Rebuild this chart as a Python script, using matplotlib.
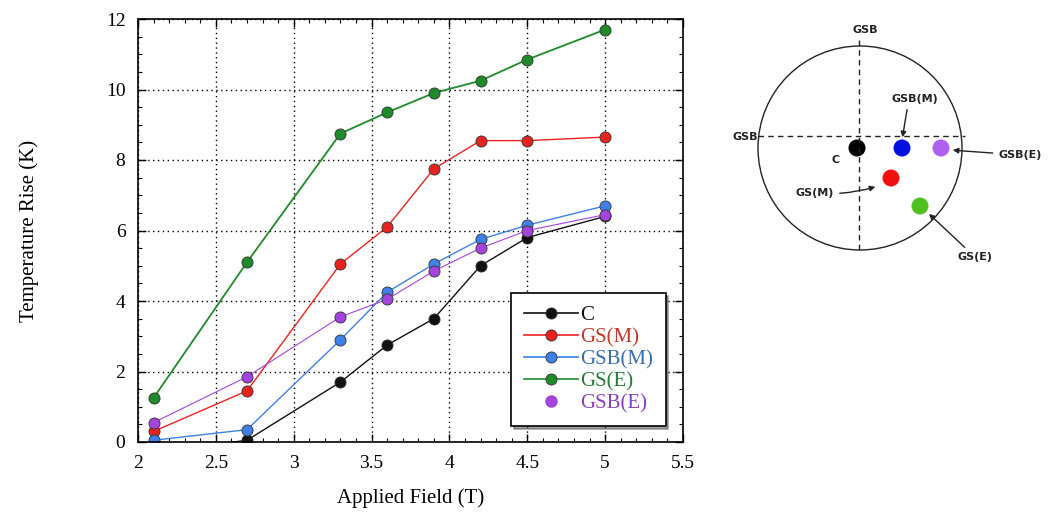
import matplotlib
matplotlib.use("Agg")
import matplotlib.pyplot as plt
from matplotlib.lines import Line2D
from matplotlib.patches import Circle
from matplotlib.ticker import MultipleLocator, FuncFormatter

field = [2.1, 2.7, 3.3, 3.6, 3.9, 4.2, 4.5, 5.0]
rise_C = [-0.3, 0.05, 1.7, 2.75, 3.5, 5.0, 5.8, 6.4]
rise_GSM = [0.3, 1.45, 5.05, 6.1, 7.75, 8.55, 8.55, 8.65]
rise_GSBM = [0.05, 0.35, 2.9, 4.25, 5.05, 5.75, 6.15, 6.7]
rise_GSE = [1.25, 5.1, 8.75, 9.35, 9.9, 10.25, 10.85, 11.7]
rise_GSBE = [0.55, 1.85, 3.55, 4.05, 4.85, 5.5, 6.0, 6.45]
series_names = ["C", "GS(M)", "GSB(M)", "GS(E)", "GSB(E)"]
series_colors = ["#111111", "#e8231f", "#3f80e6", "#1e8a2a", "#a444dd"]
text_colors = ["#111111", "#c0392b", "#3a6db0", "#2a7a3a", "#8a3fc0"]

# schematic (right panel) labels / positions in pixel space
sch_names = ["C", "GSB(M)", "GSB(E)", "GS(M)", "GS(E)"]
sch_dot_x = [857, 902, 941, 891, 920]
sch_dot_y = [148, 148, 148, 178, 206]
sch_dot_colors = ["#000000", "#0010e0", "#b060f0", "#f01010", "#50c020"]

plt.rcParams['font.family'] = ['Liberation Serif', 'DejaVu Serif']
fig = plt.figure(figsize=(10.55, 5.23), dpi=100)
ax = fig.add_axes([138/1055, 1-442/523, (683-138)/1055, (442-19)/523])

data = [rise_C, rise_GSM, rise_GSBM, rise_GSE, rise_GSBE]
lws = [1.0, 1.0, 1.0, 1.3, 0.8]
for y, c, lw in zip(data, series_colors, lws):
    ax.plot(field, y, color=c, lw=lw, marker='o', ms=8, mfc=c,
            mec='#333333', mew=0.6, clip_on=True)

ax.set_xlim(2, 5.5)
ax.set_ylim(0, 12)
ax.xaxis.set_major_locator(MultipleLocator(0.5))
ax.xaxis.set_minor_locator(MultipleLocator(0.1))
ax.yaxis.set_major_locator(MultipleLocator(2))
ax.yaxis.set_minor_locator(MultipleLocator(0.5))
fmt = FuncFormatter(lambda v, p: "%g" % v)
ax.xaxis.set_major_formatter(fmt)
ax.yaxis.set_major_formatter(fmt)
ax.tick_params(which='both', direction='in', top=True, right=True, labelsize=14)
ax.tick_params(which='major', length=6, width=1)
ax.tick_params(which='minor', length=3, width=0.8)
ax.tick_params(axis='x', which='major', pad=9)
ax.tick_params(axis='y', which='major', pad=9)
ax.grid(True, which='major', color='black', ls=(0, (1, 2.5)), lw=1.0)
for s in ax.spines.values():
    s.set_linewidth(1.2)
ax.set_xlabel("Applied Field (T)", fontsize=15, labelpad=12)
ax.set_ylabel("Temperature Rise (K)", fontsize=15, labelpad=48)

handles = []
for i, (n, c) in enumerate(zip(series_names, series_colors)):
    if i == 4:
        handles.append(Line2D([], [], color=c, lw=0, marker='o', ms=8, mfc=c, mec=c))
    else:
        handles.append(Line2D([], [], color=c, lw=1.2, marker='o', ms=8, mfc=c, mec='#333333', mew=0.6))
leg = ax.legend(handles, series_names, loc='lower right', bbox_to_anchor=(0.968, 0.038),
                borderaxespad=0.0,
                fontsize=15, frameon=True, fancybox=False, shadow=True,
                edgecolor='black', handlelength=2.6, handletextpad=0.1,
                labelspacing=0.12, borderpad=0.6)
leg.get_frame().set_linewidth(1.2)
for t, c in zip(leg.get_texts(), text_colors):
    t.set_color(c)

# schematic panel
sx = fig.add_axes([0, 0, 1, 1], zorder=-1)
sx.set_xlim(0, 1055)
sx.set_ylim(523, 0)
sx.axis('off')
sx.add_patch(Circle((860, 148), 102, fill=False, ec='#222222', lw=1.0))
sx.plot([859, 859], [40, 250], color='#222222', ls=(0, (4, 3)), lw=1.0)
sx.plot([758, 965], [136, 136], color='#222222', ls=(0, (4, 3)), lw=1.0)
for x, y, c in zip(sch_dot_x, sch_dot_y, sch_dot_colors):
    sx.scatter([x], [y], s=150, color=c, edgecolors='none')
fp = dict(fontsize=8, fontweight='bold', family='DejaVu Sans', color='#222222')
sx.text(865, 30, "GSB", ha='center', va='center', **fp)
sx.text(745, 137, "GSB", ha='center', va='center', **fp)
sx.text(836, 160, "C", ha='center', va='center', **fp)
sx.annotate("GSB(M)", xy=(902, 140), xytext=(915, 99), ha='center', va='center',
            arrowprops=dict(arrowstyle='-|>', color='#222222', lw=1.0,
                            relpos=(0.35, 0.0)), **fp)
sx.annotate("GSB(E)", xy=(950, 150), xytext=(1020, 155), ha='center', va='center',
            arrowprops=dict(arrowstyle='-|>', color='#222222', lw=1.0), **fp)
sx.annotate("GS(M)", xy=(878, 186), xytext=(815, 193), ha='center', va='center',
            arrowprops=dict(arrowstyle='-|>', color='#222222', lw=1.0,
                            connectionstyle='arc3,rad=0.1'), **fp)
sx.annotate("GS(E)", xy=(927, 212), xytext=(975, 257), ha='center', va='center',
            arrowprops=dict(arrowstyle='-|>', color='#222222', lw=1.0), **fp)

fig.savefig("out.png", dpi=100)
